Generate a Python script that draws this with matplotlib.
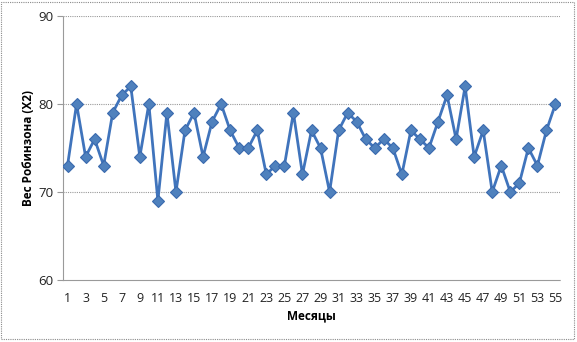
import matplotlib
matplotlib.use("Agg")
import matplotlib.pyplot as plt
from matplotlib.patches import Rectangle

months = list(range(1, 56))
weights = [73, 80, 74, 76, 73, 79, 81, 82, 74, 80,
           69, 79, 70, 77, 79, 74, 78, 80, 77, 75,
           75, 77, 72, 73, 73, 79, 72, 77, 75, 70,
           77, 79, 78, 76, 75, 76, 75, 72, 77, 76,
           75, 78, 81, 76, 82, 74, 77, 70, 73, 70,
           71, 75, 73, 77, 80]
xtick_labels = [str(m) for m in months[::2]]
yticks = [60, 70, 80, 90]

W, H = 577, 342
fig = plt.figure(figsize=(W / 100, H / 100), dpi=100)
plt.rcParams['font.family'] = ['Open Sans', 'DejaVu Sans']

left, right, top, bottom = 63, 560, 16, 280
ax = fig.add_axes([left / W, 1 - bottom / H, (right - left) / W, (bottom - top) / H])

ax.plot(months, weights, color='#4074BC', lw=2.0, marker='D', markersize=6.5,
        markerfacecolor='#4F81BD', markeredgecolor='#3A6AAE', markeredgewidth=0.8,
        zorder=3)

ax.set_xlim(0.5, 55.5)
ax.set_ylim(60, 90)
ax.set_yticks(yticks)
ax.set_xticks(months[::2])
ax.set_xticklabels(xtick_labels)
ax.tick_params(axis='x', length=0, labelsize=9, pad=9, colors='#222222')
ax.tick_params(axis='y', length=4, width=0.8, color='#999999', labelsize=9.5, pad=3,
               labelcolor='#222222')

for y in [70, 80, 90]:
    ax.axhline(y, color='#9a9a9a', lw=0.8, ls=(0, (1, 1)), zorder=1)

for s in ['top', 'right']:
    ax.spines[s].set_visible(False)
for s in ['left', 'bottom']:
    ax.spines[s].set_color('#9a9a9a')
    ax.spines[s].set_linewidth(0.8)
    ax.spines[s].set_linestyle((0, (1, 1)))

ax.set_ylabel('Вес Робинзона (X2)', fontsize=8.5, fontweight='bold', labelpad=2)
ax.set_xlabel('Месяцы', fontsize=8.5, fontweight='bold', labelpad=3)

fig.patches.append(Rectangle((1 / W, 3 / H), (W - 4) / W, (H - 5) / H,
                             transform=fig.transFigure, fill=False,
                             edgecolor='#8a8a8a', lw=0.8, ls=(0, (1, 1))))

fig.savefig('out.png', dpi=100)
